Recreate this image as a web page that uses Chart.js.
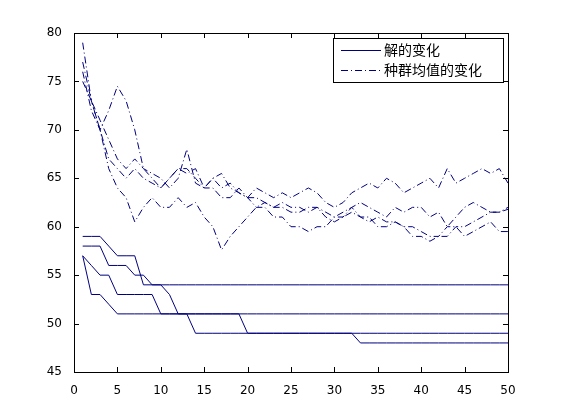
<!DOCTYPE html>
<html><head><meta charset="utf-8">
<script src="https://cdn.jsdelivr.net/npm/chart.js@4"></script>
<style>html,body{margin:0;background:#fff}#w{width:561px;height:420px}</style></head>
<body><div id="w"><canvas id="c"></canvas></div>
<script>
const xs = Array.from({length:50},(_,i)=>i+1);
const best1 = [59,59,59,58,57,57,57,54,54,54,54,54,54,54,54,54,54,54,54,54,54,54,54,54,54,54,54,54,54,54,54,54,54,54,54,54,54,54,54,54,54,54,54,54,54,54,54,54,54,54];
const best2 = [58,58,58,56,56,56,55,55,54,54,53,51,51,51,51,51,51,51,51,51,51,51,51,51,51,51,51,51,51,51,51,51,51,51,51,51,51,51,51,51,51,51,51,51,51,51,51,51,51,51];
const best3 = [57,56,55,55,53,53,53,53,53,51,51,51,51,49,49,49,49,49,49,49,49,49,49,49,49,49,49,49,49,49,49,49,49,49,49,49,49,49,49,49,49,49,49,49,49,49,49,49,49,49];
const best4 = [57,53,53,52,51,51,51,51,51,51,51,51,51,51,51,51,51,51,51,49,49,49,49,49,49,49,49,49,49,49,49,49,48,48,48,48,48,48,48,48,48,48,48,48,48,48,48,48,48,48];
const mean1 = [76,72,70,72,74.5,73,70,66,65,64,65,66,66,65,64,64,63,63,64,63,62,62,61,61,60,60,59.5,60,60,61,61,62,61,61,60,60,60.5,60,59,59,58.5,59,59,60,60,60.5,61,61.5,61.5,61.8];
const mean2 = [79,73,70,66,64,63,60.5,62,63,62,62,63,62,62.5,61,60,57.6,59,60,61,62,62.5,62,62.5,62,62,61.5,62,61,60.5,61,61.5,61,60.5,61,60.5,60.5,60,60,59.5,59,59,60,60,59,59.5,60,60.5,59.5,59.5];
const mean3 = [77,73,71,69,67,66,67,66,65.5,65,64,65,68,64.5,64,65,64,64.5,63.5,63,63,62.5,62,62,61.5,61.5,62,62,61.5,61,61.5,62,62.5,62,61.5,61,62,61.5,62,62,61,61.5,60,61,62,62.5,62,61.5,61.5,62];
const mean4 = [75,73,70,67,66,65,66,65,64.5,64,65,66,65.5,66,64,65,65.5,64,63.5,63,64,63.5,63,63.5,63,63.5,64,63.5,62.5,62,62.5,63.5,64,64.5,64,65,64.5,63.5,64,64.5,65,64,66,64.5,65,65.5,66,65.5,66,64.5];
const legendLabels = ['解的变化','种群均值的变化'];
const xTicks = [0,5,10,15,20,25,30,35,40,45,50];
const yTicks = [45,50,55,60,65,70,75,80];
const C = '#00007f';
const mk = (d,dash)=>({data:d.map((v,i)=>({x:xs[i],y:v})),borderColor:C,borderWidth:1,pointRadius:0,borderDash:dash,tension:0,fill:false});
const ds = [mk(best1,[]),mk(best2,[]),mk(best3,[]),mk(best4,[]),mk(mean1,[7,3,1,3]),mk(mean2,[7,3,1,3]),mk(mean3,[7,3,1,3]),mk(mean4,[7,3,1,3])];
const boxPlugin = {id:'box',afterDraw(ch){
  const g=ch.ctx,a=ch.chartArea,sx=ch.scales.x,sy=ch.scales.y;
  g.save();g.strokeStyle='#000';g.lineWidth=1;
  g.strokeRect(a.left+0.5,a.top+0.5,a.right-a.left,a.bottom-a.top);
  g.beginPath();
  xTicks.forEach(t=>{const p=Math.round(sx.getPixelForValue(t))+0.5;g.moveTo(p,a.bottom);g.lineTo(p,a.bottom-5);g.moveTo(p,a.top);g.lineTo(p,a.top+5);});
  yTicks.forEach(t=>{const p=Math.round(sy.getPixelForValue(t))+0.5;g.moveTo(a.left,p);g.lineTo(a.left+5,p);g.moveTo(a.right,p);g.lineTo(a.right-5,p);});
  g.stroke();
  // legend
  const lx=a.right-175,ly=a.top+5,lw=170,lh=44;
  g.fillStyle='#fff';g.fillRect(lx,ly,lw,lh);g.strokeRect(lx+0.5,ly+0.5,lw,lh);
  g.strokeStyle=C;
  [[],[7,3,1,3]].forEach((d,i)=>{const y=ly+12+i*20+0.5;g.setLineDash(d);g.beginPath();g.moveTo(lx+8,y);g.lineTo(lx+48,y);g.stroke();});
  g.setLineDash([]);g.fillStyle='#000';g.font='14px "Noto Sans CJK SC"';g.textBaseline='middle';
  legendLabels.forEach((s,i)=>g.fillText(s,lx+51,ly+12+i*20));
  g.restore();
}};
new Chart(document.getElementById('c'),{type:'line',data:{datasets:ds},
 options:{responsive:true,maintainAspectRatio:false,animation:false,
  layout:{padding:{left:34,right:53,top:33,bottom:20}},
  plugins:{legend:{display:false},tooltip:{enabled:false}},
  scales:{
   x:{type:'linear',min:0,max:50,afterBuildTicks:s=>{s.ticks=xTicks.map(v=>({value:v}))},afterFit:s=>{s.height=28},
      grid:{display:false},border:{display:false},ticks:{color:'#000',font:{size:12,family:'DejaVu Sans'},maxRotation:0,padding:4}},
   y:{min:45,max:80,afterBuildTicks:s=>{s.ticks=yTicks.map(v=>({value:v}))},afterFit:s=>{s.width=40},
      grid:{display:false},border:{display:false},ticks:{color:'#000',font:{size:12,family:'DejaVu Sans'},padding:4}}
  }},plugins:[boxPlugin]});
</script></body></html>
